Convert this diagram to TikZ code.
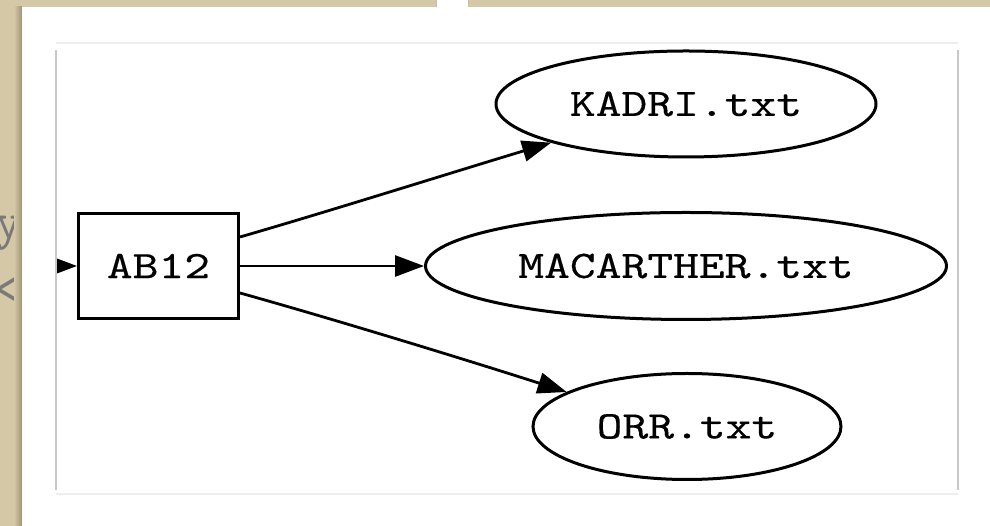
\documentclass[tikz,border=0pt]{standalone}
\usepackage{fontspec}
\usetikzlibrary{arrows.meta,shapes.geometric}
\newfontfamily\codefont{lmmono10-regular.otf}[FakeStretch=1.26,FakeBold=0.3]
\newfontfamily\pagefont{lmmono10-regular.otf}[FakeStretch=1.05]
\definecolor{parchment}{RGB}{213,200,167}
\definecolor{parchshade}{RGB}{158,146,116}
\definecolor{frameside}{RGB}{200,200,200}
\definecolor{frametop}{RGB}{238,238,238}
\definecolor{ghosttext}{RGB}{122,122,122}

\begin{document}
\begin{tikzpicture}[x=1pt,y=1pt,
  every node/.style={font=\codefont\fontsize{39}{44}\selectfont, inner sep=0pt},
  filebox/.style={draw, line width=3pt, minimum width=160pt, minimum height=105pt},
  fileoval/.style={draw, ellipse, line width=3pt},
  link/.style={line width=2.8pt, -{Triangle[length=29pt,width=21pt]}},
  ghost/.style={text=ghosttext, font=\pagefont\fontsize{52}{56}\selectfont}]

% page background
\fill[parchment] (0,0) rectangle (990,526);
\useasboundingbox (0,0) rectangle (990,526);

% text of the page lying under the panel
\node[ghost, anchor=base east] (ghosty) at (23,287) {y};
\node[ghost, anchor=base east] (ghostlt) at (22,220.5) {<};

% white panel with its soft left shadow
\shade[left color=parchment, right color=parchshade] (14,0) rectangle (22,519);
\fill[white] (22,0) rectangle (990,519);
\fill[white] (437,519) rectangle (468,526);
\draw[parchshade!60, line width=1pt] (436.5,519) -- (436.5,526);
\draw[parchshade!60, line width=1pt] (468.5,519) -- (468.5,526);

% graph frame
\draw[frametop, line width=1.5pt] (56,483) -- (958,483);
\draw[frametop, line width=1.5pt] (56,32) -- (958,32);
\draw[frameside, line width=1.5pt] (56,36) -- (56,476);
\draw[frameside, line width=1.5pt] (958,36) -- (958,476);

% nodes
\node[filebox] (ab) at (158.5,260) {AB12};
\node[fileoval, minimum width=380pt, minimum height=106pt] (kadri) at (686,422) {KADRI.txt};
\node[fileoval, minimum width=521pt, minimum height=107pt] (mac) at (686,260) {MACARTHER.txt};
\node[fileoval, minimum width=308pt, minimum height=106pt] (orr) at (687,99.5) {ORR.txt};

% edges
\coordinate (feed) at (20,260);
\begin{scope}
  \clip (57,0) rectangle (990,526);
  \draw[link] (feed) -- (ab.west);
\end{scope}
\draw[link] ([yshift=29pt]ab.east) .. controls (330,315) and (460,356) .. (kadri.196);
\draw[link] (ab.east) -- (mac.west);
\draw[link] ([yshift=-27pt]ab.east) .. controls (340,205) and (470,165) .. (orr.164);
\end{tikzpicture}
\end{document}
